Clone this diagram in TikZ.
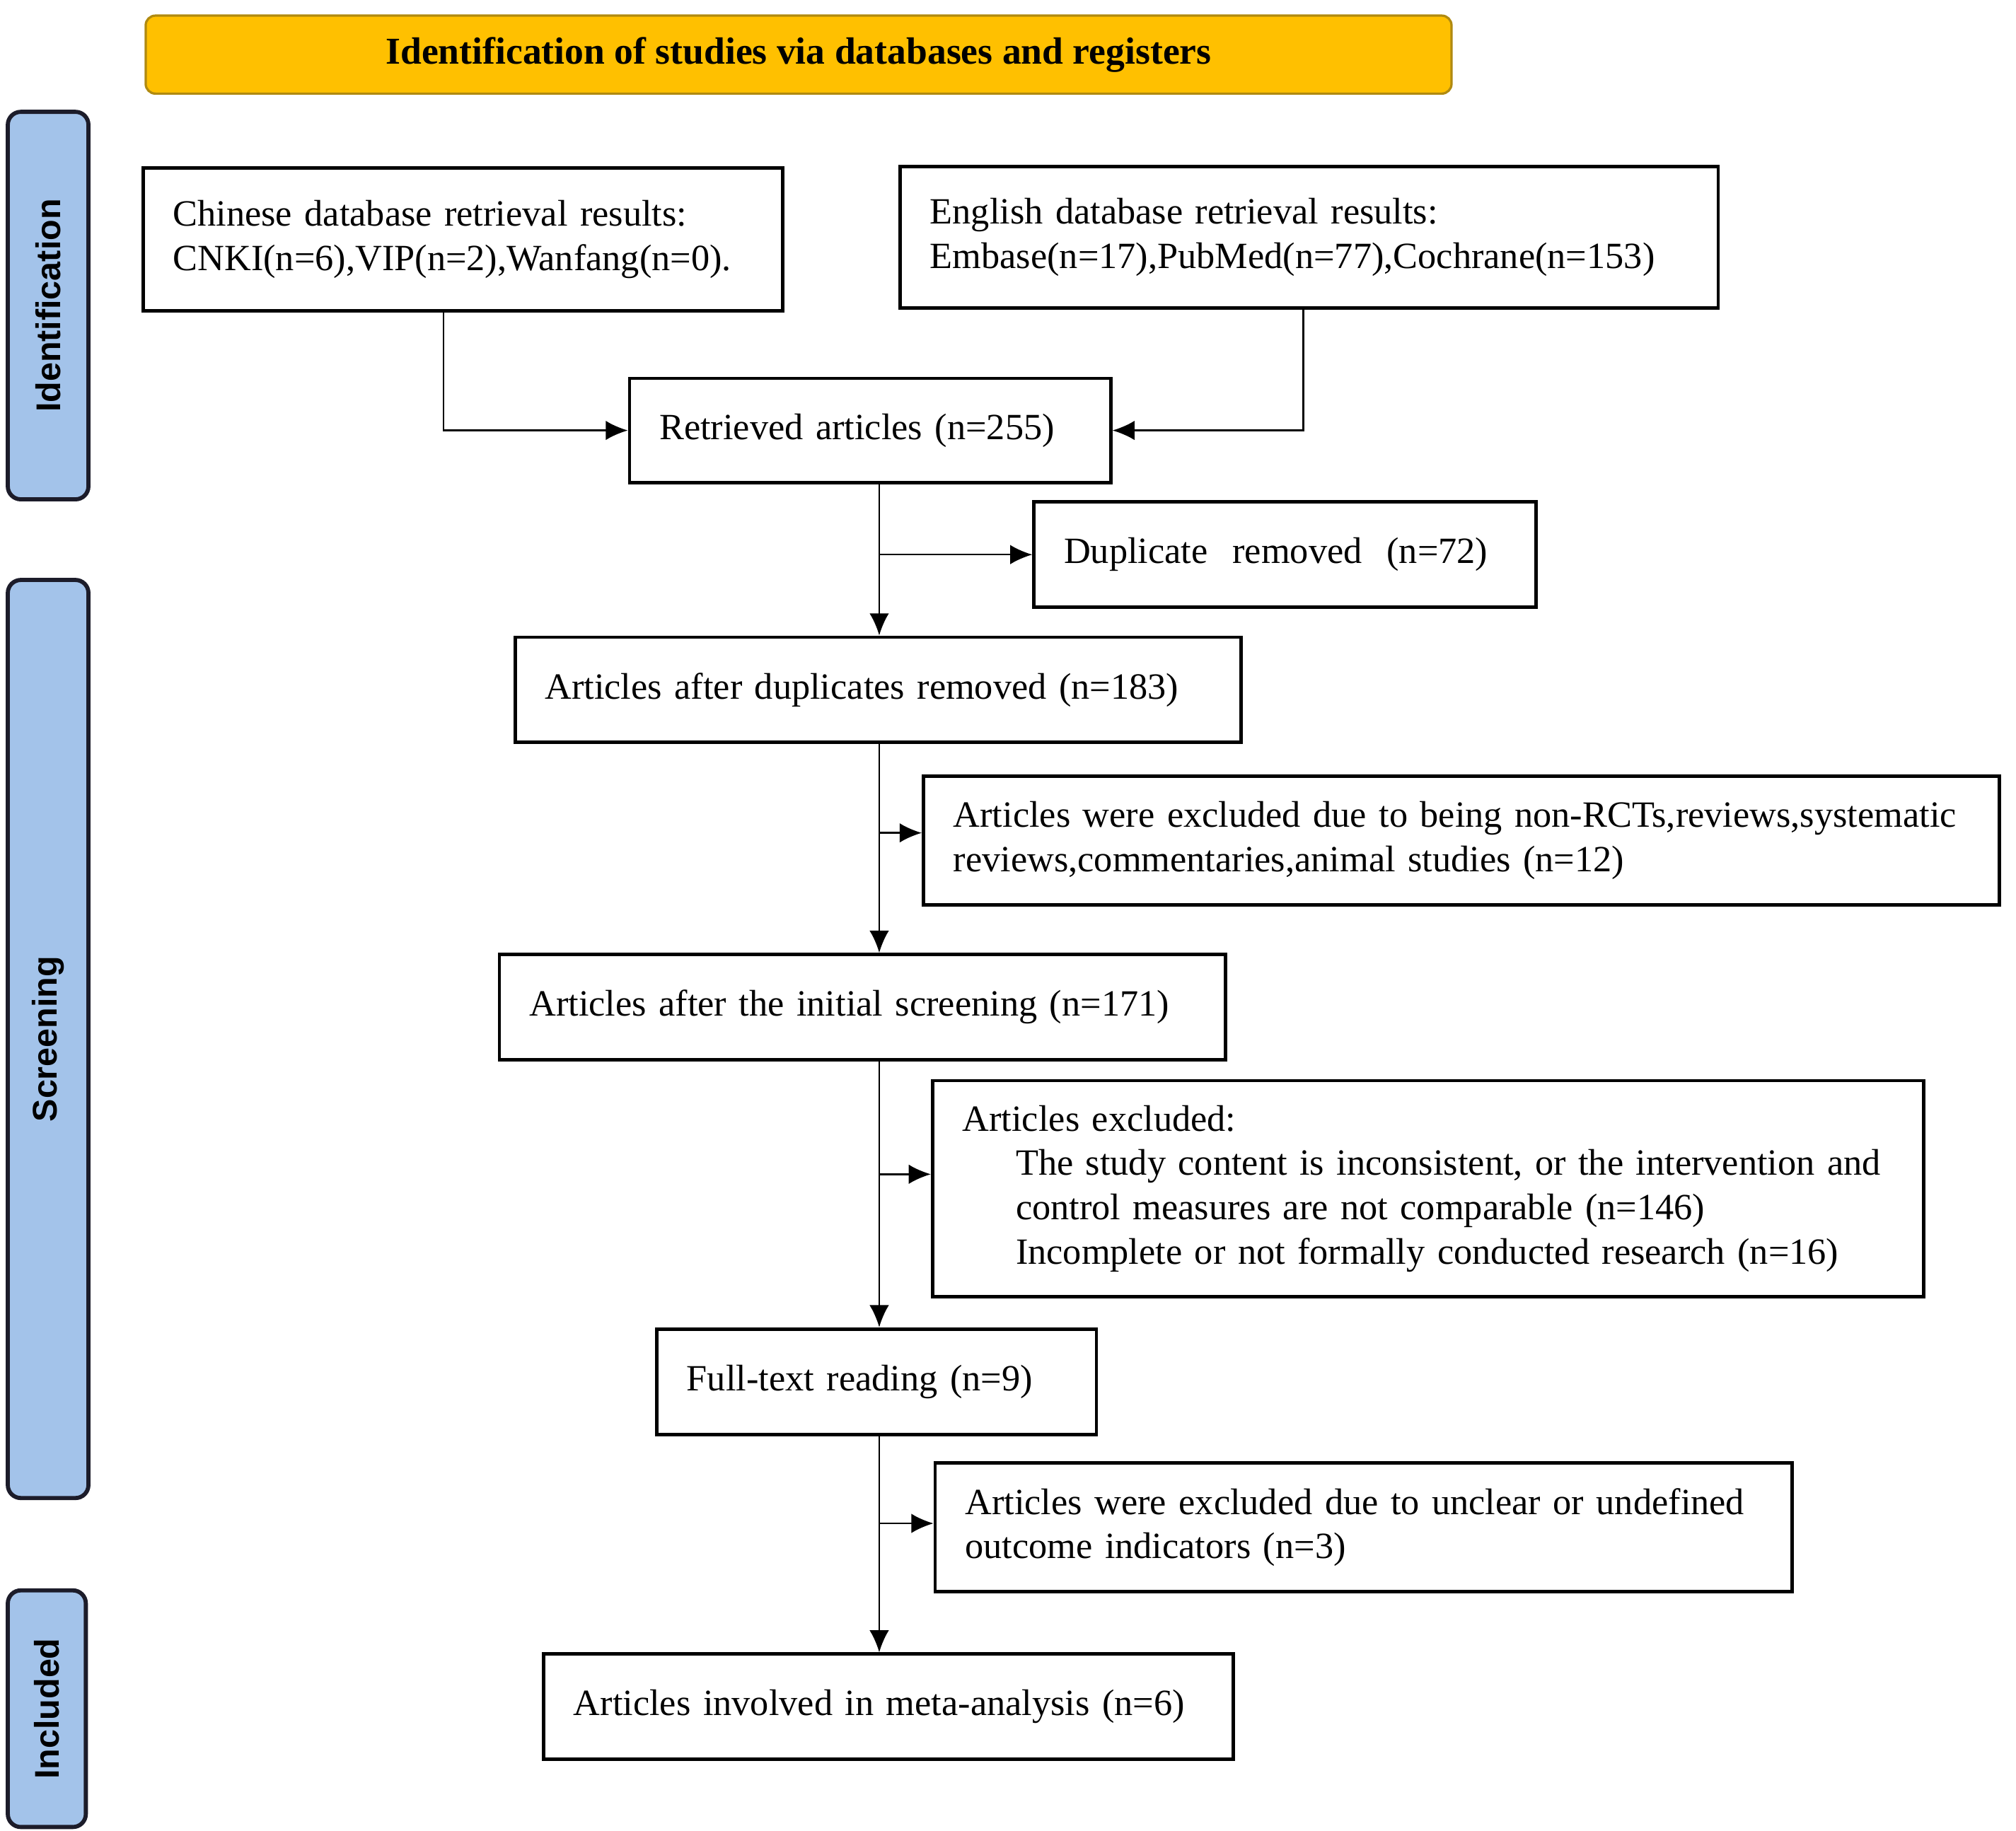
\documentclass[tikz,border=0pt]{standalone}
\usepackage{fontspec}
\setmainfont{Liberation Serif}
\setsansfont{Liberation Sans}
\usetikzlibrary{arrows.meta,positioning}
\definecolor{bannergold}{HTML}{FFC000}
\definecolor{bannerline}{HTML}{B08A10}
\definecolor{phaseblue}{HTML}{A3C3EA}
\definecolor{phaseline}{HTML}{1C1C2A}

\begin{document}
\begin{tikzpicture}[x=0.2mm, y=-0.2mm,
    box/.style={draw, line width=1.5pt, inner xsep=4.6mm, inner ysep=0pt,
        align=left, font=\fontsize{16.2}{19.4}\selectfont},
    phase/.style={draw=phaseline, line width=1.8pt, fill=phaseblue,
        rounded corners=2mm, rotate=90, font=\sffamily\bfseries\fontsize{15}{18}\selectfont},
    >={Latex[length=3.4mm,width=3mm]}, line width=0.8pt]

    \useasboundingbox (0,0) rectangle (1550,1408);

    \node[draw=bannerline, line width=1pt, fill=bannergold, rounded corners=1.5mm,
        minimum width=200.8mm, minimum height=12mm,
        font=\bfseries\fontsize{16.6}{19}\selectfont] (title) at (614,42)
        {Identification of studies via databases and registers};

    \node[phase, minimum width=59.6mm, minimum height=12.4mm] (ident) at (37,235) {Identification};
    \node[phase, minimum width=141.2mm, minimum height=12.4mm] (screen) at (37,799) {Screening};
    \node[phase, minimum width=36.4mm, minimum height=12mm] (incl) at (36,1314) {Included};

    \node[box, text width=89.2mm, minimum height=22mm] (chn) at (356,184)
        {Chinese database retrieval results:\\CNKI(n=6),VIP(n=2),Wanfang(n=0).};
    \node[box, text width=116.6mm, minimum height=21.8mm] (eng) at (1006.5,182.5)
        {English database retrieval results:\\Embase(n=17),PubMed(n=77),Cochrane(n=153)};
    \node[box, text width=64.8mm, minimum height=16mm] (ret) at (669,331)
        {Retrieved articles (n=255)};
    \node[box, text width=68mm, minimum height=16.2mm] (dup) at (988,426.5)
        {Duplicate\ \ removed\ \ (n=72)};
    \node[box, text width=102.4mm, minimum height=16.2mm] (adup) at (675,530.5)
        {Articles after duplicates removed (n=183)};
    \node[box, text width=156.2mm, minimum height=19.8mm] (excl1) at (1123.5,646.5)
        {\mbox{Articles were excluded due to being non-RCTs,reviews,systematic}\\reviews,commentaries,animal studies (n=12)};
    \node[box, text width=102.4mm, minimum height=16.2mm] (init) at (663,774.5)
        {Articles after the initial screening (n=171)};
    \node[box, text width=143.2mm, minimum height=33.2mm] (excl2) at (1098,914)
        {Articles excluded:\\
        \hspace*{8.2mm}\mbox{The study content is inconsistent, or the intervention and}\\
        \hspace*{8.2mm}control measures are not comparable (n=146)\\
        \hspace*{8.2mm}Incomplete or not formally conducted research (n=16)};
    \node[box, text width=58.4mm, minimum height=16.2mm] (full) at (674,1062.5)
        {Full-text reading (n=9)};
    \node[box, text width=122.6mm, minimum height=19.8mm] (excl3) at (1048.5,1174.5)
        {Articles were excluded due to unclear or undefined\\outcome indicators (n=3)};
    \node[box, text width=96.8mm, minimum height=16.2mm] (meta) at (683,1312.5)
        {Articles involved in meta-analysis (n=6)};

    \coordinate (spine) at (676,0);

    \draw[->] ([xshift=-3mm]chn.south) |- (ret.west);
    \draw[->] ([xshift=-0.9mm]eng.south) |- (ret.east);

    \draw[->] (ret.south -| spine) -- (adup.north -| spine);
    \draw[->] (dup.west -| spine) -- (dup.west);
    \draw[->] (adup.south -| spine) -- (init.north -| spine);
    \draw[->] ([yshift=1.2mm]excl1.west -| spine) -- ([yshift=1.2mm]excl1.west);
    \draw[->] (init.south -| spine) -- (full.north -| spine);
    \draw[->] ([yshift=2.2mm]excl2.west -| spine) -- ([yshift=2.2mm]excl2.west);
    \draw[->] (full.south -| spine) -- (meta.north -| spine);
    \draw[->] ([yshift=0.6mm]excl3.west -| spine) -- ([yshift=0.6mm]excl3.west);
\end{tikzpicture}
\end{document}
